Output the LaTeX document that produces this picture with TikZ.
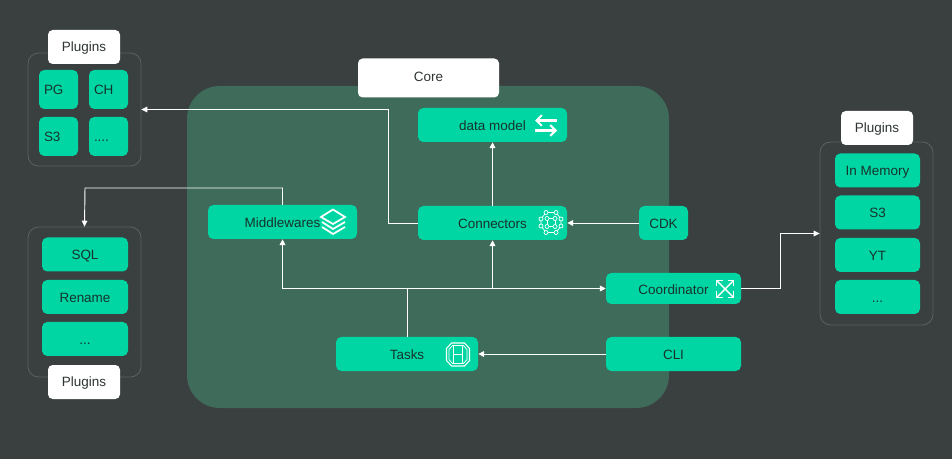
\documentclass[tikz,border=0pt]{standalone}
\usepackage{fontspec}
\setmainfont{Liberation Sans}
\usepackage{tikz}
\usetikzlibrary{arrows.meta}
\definecolor{bgdark}{HTML}{3A4040}
\definecolor{corepanel}{HTML}{3F6B5A}
\definecolor{boxgreen}{HTML}{00D6A3}
\definecolor{boxtext}{HTML}{17332D}
\definecolor{tagtext}{HTML}{2E3434}
\definecolor{groupline}{HTML}{596160}
\tikzset{
  px/.style={x=0.03cm,y=-0.03cm},
  box/.style={rectangle,rounded corners=4.5pt,fill=boxgreen,text=boxtext,inner sep=0pt,
    font=\fontsize{11.5}{13}\selectfont,text height=11pt,text depth=2pt,
    minimum width=#1*0.03cm,minimum height=34*0.03cm},
  tile/.style={rectangle,rounded corners=4.5pt,fill=boxgreen,text=boxtext,inner sep=5*0.03cm,
    font=\fontsize{11.5}{13}\selectfont,text height=11pt,text depth=2pt,
    text width=29*0.03cm,align=left,minimum height=39*0.03cm},
  tag/.style={rectangle,rounded corners=4pt,fill=white,text=tagtext,inner sep=0pt,
    font=\fontsize{11.5}{13}\selectfont,text height=10pt,text depth=2pt,
    minimum width=72*0.03cm,minimum height=34*0.03cm},
  group/.style={rectangle,rounded corners=9pt,draw=groupline,line width=0.7pt,inner sep=0pt},
  link/.style={draw=white,line width=0.8pt,-{Triangle[length=5pt,width=4.8pt]}},
  plainlink/.style={draw=white,line width=0.8pt},
  icon/.style={draw=white,line width=1.5pt},
  thinicon/.style={draw=white,line width=0.6pt}
}
\begin{document}
\begin{tikzpicture}[px]
\fill[bgdark] (0,0) rectangle (952,459);
\useasboundingbox (0,0) rectangle (952,459);
% core area
\node[rectangle,rounded corners=28pt,fill=corepanel,minimum width=482*0.03cm,minimum height=322*0.03cm,inner sep=0pt] (corepanel) at (428,247) {};
\node[tag,text height=8pt,minimum width=141*0.03cm,minimum height=39*0.03cm] (coretag) at (428.5,78) {Core};
\node[box=149,text depth=1pt] (datamodel) at (492.5,125) {data model};
\node[box=149] (connectors) at (492.5,223) {Connectors};
\node[box=149] (middlewares) at (282.5,222) {Middlewares};
\node[box=49] (cdk) at (663.5,223) {CDK};
\node[box=135,text depth=0pt,minimum height=31*0.03cm] (coordinator) at (673.5,288.5) {Coordinator};
\node[box=135] (cli) at (673.5,354) {CLI};
\node[box=142] (tasks) at (407,354) {Tasks};
% upper left plugins
\node[group,minimum width=113*0.03cm,minimum height=113*0.03cm] (sourcegroup) at (84.5,109.5) {};
\node[tag] (sourcetag) at (84,47) {Plugins};
\node[tile] (pg) at (58.5,89.5) {PG};
\node[tile] (ch) at (108.5,89.5) {CH};
\node[tile] (sthree) at (58.5,136.5) {S3};
\node[tile] (more) at (108.5,136.5) {....};
% lower left plugins
\node[group,minimum width=113*0.03cm,minimum height=150*0.03cm] (transformgroup) at (84.5,302) {};
\node[tag] (transformtag) at (84,382) {Plugins};
\node[box=86] (sql) at (85,254.5) {SQL};
\node[box=86] (rename) at (85,297) {Rename};
\node[box=86] (dots) at (85,339) {...};
% right plugins
\node[group,minimum width=113*0.03cm,minimum height=183*0.03cm] (coordgroup) at (876.5,233.5) {};
\node[tag] (coordtag) at (877,128) {Plugins};
\node[box=85] (memory) at (877.5,170.5) {In Memory};
\node[box=85] (sthreeright) at (877.5,212.5) {S3};
\node[box=85] (yt) at (877.5,255) {YT};
\node[box=85] (etc) at (877.5,297) {...};
% connectors
\coordinate (sourceturn) at (388,109.5);
\coordinate (transformturn) at (85,188);
\coordinate (hub) at (407,288.5);
\coordinate (coordturn) at (780,233.5);
\draw[link] (connectors.west) -| (sourceturn) -- (sourcegroup.east);
\draw[link] (middlewares.north) |- (transformturn) -- (transformgroup.north);
\draw[link] (connectors.north) -- (datamodel.south);
\draw[link] (cdk.west) -- (connectors.east);
\draw[plainlink] (tasks.north) -- (hub);
\draw[link] (hub) -| (middlewares.south);
\draw[link] (hub) -| (connectors.south);
\draw[link] (hub) -- (coordinator.west);
\draw[link] (coordinator.east) -| (coordturn) -- (coordgroup.west);
\draw[link] (cli.west) -- (tasks.east);
% icons
\draw[icon,line width=1.8pt,-{Straight Barb[length=4.5pt,width=9pt]}] (557,120.5) -- (535,120.5);
\draw[icon,line width=1.8pt,-{Straight Barb[length=4.5pt,width=9pt]}] (535,130.5) -- (557,130.5);
\draw[icon] (333,209.5) -- (345,217) -- (333,224) -- (321,217) -- cycle;
\foreach \y in {222,227} \draw[icon] (322,\y) -- (333,\y+7) -- (345,\y);
\draw[thinicon] (546,212.5) -- (556,212.5) -- (561,219) -- (561,226) -- (556,232.5) -- (546,232.5) -- (541,226) -- (541,219) -- cycle;
\draw[thinicon] (547,218.5) rectangle (555,226.5);
\foreach \a/\b in {546/212.5,556/212.5,541/219,561/219,541/226,561/226,546/232.5,556/232.5,547/218.5,555/218.5,547/226.5,555/226.5}
  \draw[thinicon,fill=boxgreen] (\a,\b) circle (2);
\draw[icon,line width=1.2pt] (717,281) -- (733,297);
\draw[icon,line width=1.2pt] (733,281) -- (717,297);
\foreach \a/\b/\c/\d in {716.5/280.5/1/1,733.5/280.5/-1/1,716.5/297.5/1/-1,733.5/297.5/-1/-1}
  \draw[icon,line width=1.4pt] (\a+6*\c,\b) -- (\a,\b) -- (\a,\b+6*\d);
\draw[thinicon,line width=0.9pt] (451.5,343) -- (464.5,343) -- (469.5,348.5) -- (469.5,360.5) -- (464.5,366) -- (451.5,366) -- (446.5,360.5) -- (446.5,348.5) -- cycle;
\draw[thinicon] (452.5,345.5) -- (463.5,345.5) -- (467,349.5) -- (467,359.5) -- (463.5,363.5) -- (452.5,363.5) -- (449,359.5) -- (449,349.5) -- cycle;
\draw[thinicon,line width=0.9pt] (453.5,346) -- (453.5,363);
\draw[thinicon,line width=0.9pt] (462.5,346) -- (462.5,363);
\draw[thinicon,line width=0.9pt] (453.5,354.5) -- (462.5,354.5);
\end{tikzpicture}
\end{document}
